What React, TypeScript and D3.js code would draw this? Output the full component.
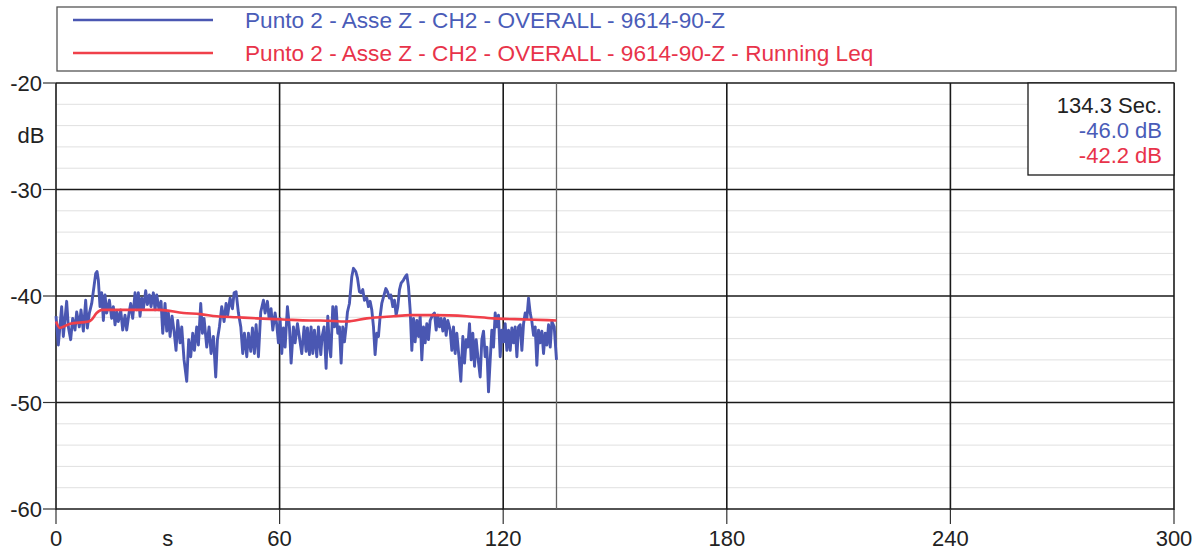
import React, { useEffect, useRef } from 'react';
import * as d3 from 'd3';

const WIDTH = 1201;
const HEIGHT = 554;

const SERIES_NAMES = [
  'Punto 2 - Asse Z - CH2 - OVERALL - 9614-90-Z',
  'Punto 2 - Asse Z - CH2 - OVERALL - 9614-90-Z - Running Leq',
];
const SERIES_COLORS = ['#4a57b2', '#f0404a'];
const TEXT_COLORS = ['#4a5cb8', '#e8334a'];

const X_TICKS = [0, 60, 120, 180, 240, 300];
const Y_TICKS = [-20, -30, -40, -50, -60];
const Y_MINOR = [-22, -24, -26, -28, -32, -34, -36, -38, -42, -44, -46, -48, -52, -54, -56, -58];

const CURSOR_TIME = 134.3;
const CURSOR_LABELS = ['134.3 Sec.', '-46.0 dB', '-42.2 dB'];

// OVERALL (s, dB)
const overallTime = [
  0.0, 0.63, 1.52, 1.97, 2.86, 3.31, 3.94, 4.47, 5.1, 5.55, 6.26, 6.71, 7.34, 7.96, 8.41, 8.95, 9.58,
  10.2, 10.65, 11.01, 11.36, 11.81, 12.26, 12.71, 13.15, 13.6, 14.32, 14.94, 15.39, 15.84, 16.29,
  16.73, 17.36, 17.9, 18.52, 18.97, 19.6, 20.04, 20.58, 21.21, 21.66, 22.1, 22.55, 23.0, 23.45,
  24.07, 24.52, 25.06, 25.5, 26.13, 26.58, 27.03, 27.65, 28.19, 28.64, 29.26, 29.71, 30.16, 30.61,
  31.14, 31.68, 32.21, 32.66, 33.29, 33.74, 34.36, 35.08, 35.61, 36.15, 36.69, 37.14, 37.76, 38.21,
  38.84, 39.28, 39.73, 40.45, 41.07, 41.61, 42.24, 42.86, 43.31, 43.85, 44.47, 45.1, 45.64, 46.08,
  46.71, 47.34, 47.79, 48.32, 48.95, 49.59, 50.11, 50.56, 51.19, 51.63, 52.26, 52.71, 53.24, 53.69,
  54.32, 54.94, 55.66, 56.11, 56.73, 57.18, 57.72, 58.17, 58.79, 59.24, 59.69, 60.13, 60.58, 61.03,
  61.48, 62.1, 62.64, 63.09, 63.71, 64.16, 64.79, 65.95, 66.57, 67.11, 67.47, 68.01, 68.45, 68.9,
  69.35, 69.97, 70.42, 71.05, 71.41, 71.94, 72.48, 72.93, 73.37, 73.73, 74.27, 74.72, 75.16, 75.61,
  76.06, 76.51, 76.95, 77.4, 77.85, 78.21, 78.74, 79.37, 79.82, 80.44, 80.89, 81.43, 81.88, 82.32,
  82.77, 83.4, 83.84, 84.29, 84.74, 85.19, 85.63, 86.08, 86.53, 86.98, 87.42, 87.87, 88.5, 88.95,
  89.48, 89.84, 90.38, 90.82, 91.27, 91.72, 92.17, 92.61, 93.24, 93.69, 94.14, 94.58, 95.03, 95.48,
  95.93, 96.37, 96.82, 97.27, 97.72, 98.16, 98.61, 99.06, 99.5, 99.95, 100.4, 101.03, 101.56,
  102.01, 102.46, 102.91, 103.35, 103.8, 104.25, 104.69, 105.14, 105.77, 106.22, 106.66, 107.11,
  107.56, 108.19, 108.63, 109.17, 109.62, 110.06, 110.51, 110.96, 111.41, 111.85, 112.3, 112.75,
  113.2, 113.82, 114.27, 114.72, 115.16, 115.61, 116.06, 116.51, 116.95, 117.4, 117.85, 118.3,
  118.74, 119.19, 119.64, 120.09, 120.53, 120.98, 121.43, 121.88, 122.32, 122.77, 123.22, 123.67,
  124.11, 124.56, 125.01, 125.46, 125.9, 126.35, 126.8, 127.25, 127.69, 128.14, 128.59, 129.03,
  129.48, 129.93, 130.38, 130.82, 131.27, 131.72, 132.17, 132.62, 133.06, 133.69, 134.3,
];
const overallDb = [
  -41.9, -44.6, -41.0, -43.8, -40.5, -42.9, -44.1, -42.1, -43.2, -41.5, -42.9, -41.3, -43.3, -40.4, -43.0, -41.6, -40.7,
  -39.1, -37.9, -37.7, -38.5, -41.0, -39.7, -42.3, -39.9, -41.6, -40.4, -42.1, -41.0, -42.7, -41.5,
  -42.4, -41.3, -43.2, -41.8, -43.2, -41.6, -40.7, -42.1, -39.7, -41.3, -39.7, -41.9, -40.2, -41.2,
  -39.5, -40.8, -39.9, -41.0, -39.7, -41.3, -39.9, -41.3, -40.5, -43.5, -40.7, -43.3, -41.6, -43.8,
  -41.9, -43.3, -45.1, -42.3, -44.4, -42.9, -46.0, -48.0, -44.1, -45.7, -43.5, -45.1, -42.9, -44.6,
  -40.7, -43.5, -42.1, -44.8, -42.9, -45.4, -43.8, -47.6, -44.1, -42.9, -41.0, -42.4, -40.7, -41.8,
  -40.2, -41.2, -39.7, -39.6, -41.6, -42.9, -45.4, -43.5, -45.7, -43.5, -45.2, -43.0, -45.4, -42.7,
  -45.7, -41.5, -40.4, -41.6, -40.5, -42.1, -41.2, -43.2, -41.6, -42.7, -44.4, -42.1, -45.4, -43.0,
  -44.8, -41.0, -42.9, -46.3, -42.9, -44.4, -42.6, -45.4, -42.9, -45.2, -43.0, -45.5, -42.9, -45.4,
  -43.2, -45.7, -42.9, -45.5, -43.8, -42.9, -46.8, -41.9, -44.8, -45.7, -41.0, -42.9, -41.0, -43.5,
  -42.9, -46.3, -42.9, -44.3, -42.9, -41.5, -40.7, -38.2, -37.4, -37.7, -38.3, -39.6, -39.7, -39.4,
  -40.4, -40.2, -41.0, -40.5, -41.3, -42.9, -45.5, -43.5, -43.8, -41.9, -40.7, -40.1, -39.3, -39.6,
  -40.2, -39.9, -41.0, -40.4, -41.8, -41.0, -39.4, -38.8, -38.5, -38.2, -38.0, -39.1, -41.3, -45.1,
  -42.1, -44.3, -42.3, -43.8, -41.9, -46.0, -42.9, -44.4, -42.6, -44.1, -42.3, -41.8, -41.6,
  -43.2, -41.8, -42.9, -42.1, -43.3, -42.1, -43.7, -42.3, -43.2, -45.1, -42.9, -45.4,
  -43.5, -46.0, -48.0, -43.8, -46.3, -44.1, -44.8, -42.6, -46.0, -43.5, -46.6, -44.1,
  -45.7, -47.6, -44.1, -43.3, -45.7, -44.8, -49.0, -46.0, -43.2, -44.8, -41.6, -42.9,
  -41.8, -45.7, -43.2, -44.3, -42.6, -45.1, -43.2, -45.1, -43.0, -44.4, -42.9, -45.7,
  -42.9, -42.7, -45.1, -42.6, -41.6, -42.1, -40.2, -41.6, -42.4, -43.7, -42.9, -46.5,
  -43.2, -44.4, -43.3, -45.4, -43.5, -44.6, -42.7, -44.8, -42.4, -42.9, -46.0,
];

// Running Leq (s, dB)
const leqTime = [0, 1.0, 3.8, 8.7, 9.6, 10.9, 12.3, 16.3, 20.8, 27.9, 34.2, 38.7, 43.1, 48.5, 53.9, 61.0, 68.2, 70.9, 78.0, 83.4, 90.6, 95.0, 101.3, 110.2, 117.4, 126.4, 134.3];
const leqDb = [-42.4, -43.0, -42.6, -42.4, -42.2, -41.6, -41.3, -41.3, -41.3, -41.3, -41.6, -41.7, -41.9, -42.0, -42.1, -42.2, -42.3, -42.3, -42.4, -42.1, -41.9, -41.8, -41.8, -41.9, -42.1, -42.2, -42.3];

const FONT = '"Liberation Sans", Arial, sans-serif';

const App = () => {
  const ref = useRef<SVGSVGElement | null>(null);

  useEffect(() => {
    const svg = d3.select(ref.current);
    svg.selectAll('*').remove();

    const x = d3.scaleLinear().domain([0, 300]).range([56, 1174]);
    const y = d3.scaleLinear().domain([-60, -20]).range([509, 83]);

    svg.append('rect').attr('width', WIDTH).attr('height', HEIGHT).attr('fill', '#fff');

    // faint minor grid (2 dB)
    svg.append('g').selectAll('line').data(Y_MINOR).enter().append('line')
      .attr('x1', x(0)).attr('x2', x(300))
      .attr('y1', d => y(d)).attr('y2', d => y(d))
      .attr('stroke', '#e0e0e0').attr('stroke-width', 1);

    // major grid
    const grid = svg.append('g').attr('stroke', '#1a1a1a').attr('stroke-width', 1.6);
    grid.selectAll('.gx').data(X_TICKS).enter().append('line')
      .attr('x1', d => x(d)).attr('x2', d => x(d))
      .attr('y1', y(-20)).attr('y2', y(-60) + 1);
    grid.selectAll('.gy').data(Y_TICKS).enter().append('line')
      .attr('x1', x(0)).attr('x2', x(300))
      .attr('y1', d => y(d)).attr('y2', d => y(d));

    // ticks outside the frame
    const ticks = svg.append('g').attr('stroke', '#333').attr('stroke-width', 1.2);
    ticks.selectAll('.tx').data(X_TICKS).enter().append('line')
      .attr('x1', d => x(d)).attr('x2', d => x(d))
      .attr('y1', y(-60)).attr('y2', y(-60) + 15);
    ticks.selectAll('.ty').data(Y_TICKS).enter().append('line')
      .attr('x1', x(0) - 13).attr('x2', x(0))
      .attr('y1', d => y(d)).attr('y2', d => y(d));

    // cursor
    svg.append('line')
      .attr('x1', x(CURSOR_TIME)).attr('x2', x(CURSOR_TIME))
      .attr('y1', y(-20)).attr('y2', y(-60))
      .attr('stroke', '#666').attr('stroke-width', 1.3);

    // series
    const line = d3.line<number>()
      .x((_, i) => x(overallTime[i]))
      .y(d => y(d));
    svg.append('path')
      .attr('d', line(overallDb))
      .attr('fill', 'none')
      .attr('stroke', SERIES_COLORS[0])
      .attr('stroke-width', 2.9)
      .attr('stroke-linejoin', 'round');

    const leqLine = d3.line<number>()
      .x((_, i) => x(leqTime[i]))
      .y(d => y(d))
      .curve(d3.curveMonotoneX);
    svg.append('path')
      .attr('d', leqLine(leqDb))
      .attr('fill', 'none')
      .attr('stroke', SERIES_COLORS[1])
      .attr('stroke-width', 2.6);

    // tick labels
    svg.append('g').selectAll('text').data(X_TICKS).enter().append('text')
      .attr('x', d => x(d)).attr('y', 546)
      .attr('text-anchor', 'middle')
      .style('font-family', FONT).style('font-size', '22px').style('fill', '#222')
      .text(d => d);
    svg.append('g').selectAll('text').data(Y_TICKS).enter().append('text')
      .attr('x', 42).attr('y', d => y(d) + 8)
      .attr('text-anchor', 'end')
      .style('font-family', FONT).style('font-size', '22px').style('fill', '#222')
      .text(d => d);

    // unit labels
    svg.append('text').attr('x', x(30)).attr('y', 546).attr('text-anchor', 'middle')
      .style('font-family', FONT).style('font-size', '22px').style('fill', '#222').text('s');
    svg.append('text').attr('x', 31).attr('y', 143).attr('text-anchor', 'middle')
      .style('font-family', FONT).style('font-size', '22px').style('fill', '#222').text('dB');

    // legend
    svg.append('rect')
      .attr('x', 57).attr('y', 7).attr('width', 1119).attr('height', 64)
      .attr('fill', '#fff').attr('stroke', '#555').attr('stroke-width', 1.3);
    SERIES_NAMES.forEach((name, i) => {
      const ly = 20 + i * 33;
      svg.append('line')
        .attr('x1', 73).attr('x2', 213).attr('y1', ly).attr('y2', ly)
        .attr('stroke', SERIES_COLORS[i]).attr('stroke-width', 2.4);
      svg.append('text')
        .attr('x', 245).attr('y', ly + 8)
        .style('font-family', FONT).style('font-size', '22.6px').style('fill', TEXT_COLORS[i])
        .text(name);
    });

    // cursor readout box
    svg.append('rect')
      .attr('x', 1028).attr('y', y(-20)).attr('width', 1174 - 1028).attr('height', 175 - y(-20))
      .attr('fill', '#fff').attr('stroke', '#1a1a1a').attr('stroke-width', 1.3);
    const readColors = ['#222', TEXT_COLORS[0], TEXT_COLORS[1]];
    CURSOR_LABELS.forEach((t, i) => {
      svg.append('text')
        .attr('x', 1162).attr('y', 113 + i * 25)
        .attr('text-anchor', 'end')
        .style('font-family', FONT).style('font-size', '22px').style('fill', readColors[i])
        .text(t);
    });
  }, []);

  return (
    <svg
      ref={ref}
      width={WIDTH}
      height={HEIGHT}
      style={{ position: 'absolute', left: 0, top: 0, background: '#fff' }}
    />
  );
};

export default App;
